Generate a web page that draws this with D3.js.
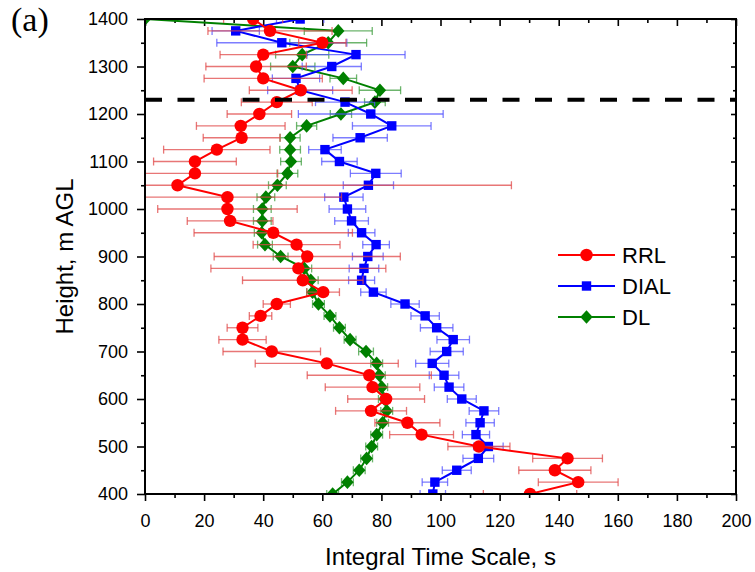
<!DOCTYPE html>
<html>
<head>
<meta charset="utf-8">
<script src="https://cdn.jsdelivr.net/npm/d3@7"></script>
<style>
  body { margin: 0; background: #fff; }
  svg { display: block; font-family: "Liberation Sans", Arial, sans-serif; }
</style>
</head>
<body>
<div id="chart"></div>
<script>
// Heights (m AGL), one row per level
const heights = [400, 425, 450, 475, 500, 525, 550, 575, 600, 625, 650, 675, 700, 725, 750, 775, 800, 825, 850, 875, 900,
  925, 950, 975, 1000, 1025, 1050, 1075, 1100, 1125, 1150, 1175, 1200, 1225, 1250, 1275, 1300, 1325, 1350, 1375, 1400];

// Integral time scale (s) and error half widths for each instrument
const rrl = [130.3, 146.6, 138.7, 143, 113, 93.6, 88.8, 76.5, 81.6, 77, 75.9, 61.5, 42.9, 33, 33, 39.1, 44.6, 60.3, 53.4, 51.9, 54.9,
  51.3, 43.4, 28.8, 27.9, 27.9, 11, 16.9, 16.9, 24.3, 32.7, 32.4, 38.7, 44.6, 52.7, 40, 37.6, 40, 60, 42.3, 36.6];
const rrlErr = [15.8, 13.5, 12.2, 11.8, 10.5, 10.8, 11, 12, 13, 16, 21, 24.2, 16.5, 8, 5.2, 3.8, 4.6, 5.5, 20.4, 29.6, 31.5,
  14.7, 26.8, 14.5, 23.6, 38.6, 113, 28, 14, 18, 13, 15, 10.9, 12, 17.4, 20, 17, 14.6, 8, 21, 10];

const dial = [97.4, 98.1, 105.5, 112.8, 116.2, 112, 113.4, 114.7, 107.2, 102.9, 101.2, 97.2, 102.1, 104.3, 98.7, 94.8, 88, 77.3, 73.3, 74.1, 75.4,
  78.2, 73.3, 69.9, 68.5, 67.3, 75.6, 78.1, 65.8, 60.9, 72.8, 83.5, 76.4, 67.7, 52.5, 51.1, 63.2, 71.4, 46.3, 30.7, 52.5];
const dialErr = [4.3, 4.3, 4.9, 5.2, 5, 4.6, 4.8, 5, 4.9, 5, 5, 5.6, 5.6, 5.5, 5.5, 4.8, 4.8, 4.3, 4.4, 5, 5.2,
  4.5, 4.5, 5.7, 6.2, 6.5, 8.5, 8.6, 6, 5.5, 9.2, 13.3, 24.5, 10, 11, 8, 10, 16.6, 22, 8, 8];

const dl = [63.5, 68.5, 72.5, 75, 76.7, 78.4, 80.4, 81.8, 81, 80.1, 79.3, 78.4, 74.8, 69.4, 65.8, 62.6, 58.7, 56.7, 56.1, 53.9, 45.9,
  40.6, 39.5, 39.7, 39.7, 40.9, 44.8, 48.2, 49.4, 49.1, 49.1, 54.7, 66.3, 77.8, 79.5, 67.1, 50, 53.2, 62, 65.4, 0];
const dlErr = [2, 2, 2, 2, 2, 2, 2, 2, 2, 2, 2, 2, 2.5, 2, 2, 2, 2, 2, 2.5, 2.5, 2.5,
  2.5, 2.5, 3, 3, 3, 3, 3.5, 3.5, 3.5, 3.4, 3.4, 3.6, 3.5, 7, 4.5, 7.5, 9, 13, 11.5, 0];

// Reference height marked by the dashed line
const refHeight = 1230;

// Axis ticks
const xTicks = [0, 20, 40, 60, 80, 100, 120, 140, 160, 180, 200];
const yTicks = [400, 500, 600, 700, 800, 900, 1000, 1100, 1200, 1300, 1400];

const width = 755;
const height = 572;
const margin = { top: 19, right: 19, bottom: 78, left: 145 };

const svg = d3.select("#chart")
  .append("svg")
  .attr("width", width)
  .attr("height", height);

// Scales
const x = d3.scaleLinear().domain([0, 200]).range([margin.left, width - margin.right]);
const y = d3.scaleLinear().domain([400, 1400]).range([height - margin.bottom, margin.top]);

const xMinor = d3.range(10, 200, 20);
const yMinor = d3.range(450, 1400, 100);

// Axes
function styleAxis(g) {
  g.select(".domain").remove();
  g.selectAll(".tick line").attr("stroke", "#000").attr("stroke-width", 1.6);
  g.selectAll(".tick text").attr("fill", "#000").style("font-size", "18px");
}

svg.append("g")
  .attr("transform", `translate(0,${y(400)})`)
  .call(d3.axisBottom(x).tickValues(xTicks).tickSize(7).tickPadding(13).tickFormat(d3.format("d")))
  .call(styleAxis);
svg.append("g")
  .attr("transform", `translate(0,${y(400)})`)
  .call(d3.axisBottom(x).tickValues(xMinor).tickSize(4).tickFormat(""))
  .call(styleAxis);

svg.append("g")
  .attr("transform", `translate(${x(0)},0)`)
  .call(d3.axisLeft(y).tickValues(yTicks).tickSize(8).tickPadding(9).tickFormat(d3.format("d")))
  .call(styleAxis);
svg.append("g")
  .attr("transform", `translate(${x(0)},0)`)
  .call(d3.axisLeft(y).tickValues(yMinor).tickSize(4).tickFormat(""))
  .call(styleAxis);

// Top and right axes: ticks point inwards, no labels
svg.append("g")
  .attr("transform", `translate(0,${y(1400)})`)
  .call(d3.axisTop(x).tickValues(xTicks).tickSize(-7).tickFormat(""))
  .call(styleAxis);
svg.append("g")
  .attr("transform", `translate(0,${y(1400)})`)
  .call(d3.axisTop(x).tickValues(xMinor).tickSize(-4).tickFormat(""))
  .call(styleAxis);
svg.append("g")
  .attr("transform", `translate(${x(200)},0)`)
  .call(d3.axisRight(y).tickValues(yTicks).tickSize(-5).tickFormat(""))
  .call(styleAxis);
svg.append("g")
  .attr("transform", `translate(${x(200)},0)`)
  .call(d3.axisRight(y).tickValues(yMinor).tickSize(-3).tickFormat(""))
  .call(styleAxis);

// Clip everything to the plot frame
svg.append("clipPath")
  .attr("id", "plotClip")
  .append("rect")
  .attr("x", x(0))
  .attr("y", y(1400))
  .attr("width", x(200) - x(0))
  .attr("height", y(400) - y(1400));

const plot = svg.append("g").attr("clip-path", "url(#plotClip)");

const series = [
  { name: "DL", values: dl, errors: dlErr, color: "#008000", bar: "#3c9c3c", shape: "diamond" },
  { name: "DIAL", values: dial, errors: dialErr, color: "#0000ff", bar: "#5252ff", shape: "square" },
  { name: "RRL", values: rrl, errors: rrlErr, color: "#ff0000", bar: "#e04848", shape: "circle" }
];

function drawMarker(sel, shape, color) {
  if (shape === "circle") {
    sel.append("circle").attr("r", 6.2).attr("fill", color);
  } else if (shape === "square") {
    sel.append("rect").attr("x", -4.7).attr("y", -4.7).attr("width", 9.4).attr("height", 9.4).attr("fill", color);
  } else {
    sel.append("path").attr("d", "M0,-6.8L6.2,0L0,6.8L-6.2,0Z").attr("fill", color);
  }
}

const line = d3.line()
  .x((d) => x(d.v))
  .y((d) => y(d.h));

series.forEach((s) => {
  const rows = heights.map((h, i) => ({ h: h, v: s.values[i], e: s.errors[i] }));
  const g = plot.append("g");

  // Error bars
  const eb = g.selectAll(".err")
    .data(rows.filter((d) => d.e > 0))
    .enter()
    .append("g")
    .attr("stroke", s.bar)
    .attr("stroke-width", 1.3)
    .attr("stroke-opacity", 0.75);
  eb.append("line")
    .attr("x1", (d) => x(d.v - d.e))
    .attr("x2", (d) => x(d.v + d.e))
    .attr("y1", (d) => y(d.h))
    .attr("y2", (d) => y(d.h));
  eb.append("line")
    .attr("x1", (d) => x(d.v - d.e))
    .attr("x2", (d) => x(d.v - d.e))
    .attr("y1", (d) => y(d.h) - 4)
    .attr("y2", (d) => y(d.h) + 4);
  eb.append("line")
    .attr("x1", (d) => x(d.v + d.e))
    .attr("x2", (d) => x(d.v + d.e))
    .attr("y1", (d) => y(d.h) - 4)
    .attr("y2", (d) => y(d.h) + 4);

  // Connecting line
  g.append("path")
    .datum(rows)
    .attr("fill", "none")
    .attr("stroke", s.color)
    .attr("stroke-width", 2)
    .attr("d", line);

  // Markers
  g.selectAll(".mk")
    .data(rows)
    .enter()
    .append("g")
    .attr("transform", (d) => `translate(${x(d.v)},${y(d.h)})`)
    .each(function () { drawMarker(d3.select(this), s.shape, s.color); });
});

// Dashed reference line
plot.append("line")
  .attr("x1", x(0))
  .attr("x2", x(200))
  .attr("y1", y(refHeight))
  .attr("y2", y(refHeight))
  .attr("stroke", "#000")
  .attr("stroke-width", 4)
  .attr("stroke-dasharray", "17,15.5");

// Frame
svg.append("rect")
  .attr("x", x(0))
  .attr("y", y(1400))
  .attr("width", x(200) - x(0))
  .attr("height", y(400) - y(1400))
  .attr("fill", "none")
  .attr("stroke", "#000")
  .attr("stroke-width", 2);

// Axis titles
svg.append("text")
  .attr("x", (x(0) + x(200)) / 2)
  .attr("y", 565)
  .attr("text-anchor", "middle")
  .style("font-size", "24px")
  .text("Integral Time Scale, s");

svg.append("text")
  .attr("transform", `translate(73,${(y(400) + y(1400)) / 2}) rotate(-90)`)
  .attr("text-anchor", "middle")
  .style("font-size", "24px")
  .text("Height, m AGL");

// Panel label
svg.append("text")
  .attr("x", 11)
  .attr("y", 31)
  .style("font-family", "'Liberation Serif', 'Times New Roman', serif")
  .style("font-size", "34px")
  .text("(a)");

// Legend
const legendItems = [series[2], series[1], series[0]];
const legend = svg.append("g").attr("transform", "translate(558,255)");
legendItems.forEach((s, i) => {
  const row = legend.append("g").attr("transform", `translate(0,${i * 31})`);
  row.append("line")
    .attr("x1", 0).attr("x2", 57)
    .attr("stroke", s.color)
    .attr("stroke-width", 2);
  drawMarker(row.append("g").attr("transform", "translate(28.5,0)"), s.shape, s.color);
  row.append("text")
    .attr("x", 64)
    .attr("dy", "0.36em")
    .style("font-size", "22px")
    .text(s.name);
});
</script>
</body>
</html>
